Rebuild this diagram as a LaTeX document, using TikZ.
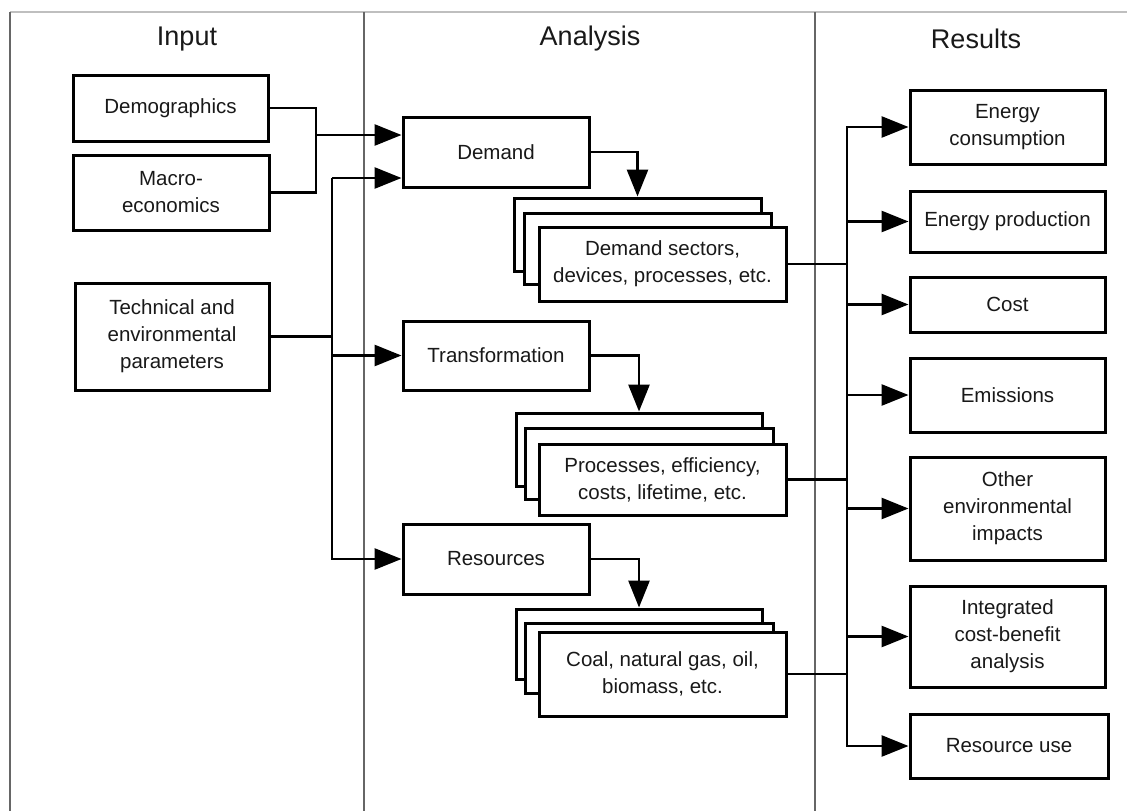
\documentclass[tikz,border=0pt]{standalone}
\usepackage{fontspec}
\setmainfont{Liberation Sans}
\usetikzlibrary{arrows.meta}
\begin{document}
\begin{tikzpicture}[x=1pt,y=-1pt,
  box/.style={draw=black, line width=3pt, fill=white, inner sep=0pt, align=center,
    font=\fontsize{20.5}{27}\selectfont, text=black!90},
  conn/.style={draw=black, line width=2.8pt},
  thinconn/.style={draw=black, line width=1.7pt},
  arr/.style={conn, -{Triangle[length=27pt,width=21pt]}},
  frame/.style={draw=black!60, line width=1.5pt},
  title/.style={font=\fontsize{27}{32}\selectfont, text=black!90}]
\useasboundingbox (0,0) rectangle (1127,811);
\fill[white] (0,0) rectangle (1127,811);
% frame
\draw[draw=black!25, line width=1.5pt] (10,12) -- (1127,12);
\draw[frame] (10,12) -- (10,811);
\draw[frame] (364,12) -- (364,811);
\draw[frame] (815,12) -- (815,811);
% titles
\node[title] (tin) at (187,39) {Input};
\node[title] (tan) at (590,39) {Analysis};
\node[title] (tre) at (976,39) {Results};
% input boxes
\node[box, minimum width=195pt, minimum height=66pt] (dem) at (170.5,108) {Demographics};
\node[box, minimum width=196pt, minimum height=75pt] (mac) at (171,192.5) {Macro-\\economics};
\node[box, minimum width=194pt, minimum height=107pt] (tech) at (172,336.5) {Technical and\\environmental\\parameters};
% analysis boxes
\node[box, minimum width=186pt, minimum height=70pt] (demand) at (496,152) {Demand};
\node[box, minimum width=186pt, minimum height=69pt] (trans) at (496,355.5) {Transformation};
\node[box, minimum width=186pt, minimum height=70pt] (res) at (496,559) {Resources};
% stack 1
\node[box, minimum width=247pt, minimum height=73pt] (back1) at (637.5,234.5) {};
\node[box, minimum width=247pt, minimum height=71pt] (mid1) at (647.5,248.5) {};
\node[box, minimum width=247pt, minimum height=74pt] (front1) at (662.5,264) {Demand sectors,\\devices, processes, etc.};
% stack 2
\node[box, minimum width=246pt, minimum height=73pt] (back2) at (639,449.5) {};
\node[box, minimum width=248pt, minimum height=71pt] (mid2) at (649,463.5) {};
\node[box, minimum width=247pt, minimum height=71pt] (front2) at (662.5,479.5) {Processes, efficiency,\\costs, lifetime, etc.};
% stack 3
\node[box, minimum width=246pt, minimum height=70pt] (back3) at (639,644) {};
\node[box, minimum width=248pt, minimum height=70pt] (mid3) at (649,658) {};
\node[box, minimum width=247pt, minimum height=84pt] (front3) at (662.5,674) {Coal, natural gas, oil,\\biomass, etc.};
% results boxes
\node[box, minimum width=195pt, minimum height=74pt] (ec) at (1007.5,127) {Energy\\consumption};
\node[box, minimum width=195pt, minimum height=61pt] (ep) at (1007.5,221.5) {Energy production};
\node[box, minimum width=195pt, minimum height=55pt] (cost) at (1007.5,304.5) {Cost};
\node[box, minimum width=195pt, minimum height=74pt] (emis) at (1007.5,395) {Emissions};
\node[box, minimum width=195pt, minimum height=103pt] (oth) at (1007.5,508.5) {Other\\environmental\\impacts};
\node[box, minimum width=195pt, minimum height=101pt] (integ) at (1007.5,636.5) {Integrated\\cost-benefit\\analysis};
\node[box, minimum width=198pt, minimum height=64pt] (ru) at (1009,746) {Resource use};
% coordinates
\coordinate (j1) at (316,135);
\coordinate (j2) at (332,178);
\coordinate (bus) at (847,400);
% input connectors
\draw[conn] (dem.east) -| (j1) |- (mac.east);
\draw[arr] (j1) -- (demand.west |- j1);
\draw[conn] (tech.east) -- (tech.east -| j2);
\draw[arr] (j2) -- (demand.west |- j2);
\draw[arr] (j2) |- (res.west);
\draw[arr] (j2 |- trans.west) -- (trans.west);
% analysis connectors
\draw[arr] (demand.east) -| (back1.north);
\draw[arr] (trans.east) -| (back2.north);
\draw[arr] (res.east) -| (back3.north);
% results bus
\draw[thinconn] (front1.east) -- (front1.east -| bus);
\draw[conn] (front2.east) -- (front2.east -| bus);
\draw[arr] (front1.east -| bus) |- (ec.west);
\draw[conn] (front1.east -| bus) -- (front3.east -| bus);
\draw[arr] (front3.east) -| (bus |- ru.west) -- (ru.west);
\draw[arr] (bus |- ep.west) -- (ep.west);
\draw[arr] (bus |- cost.west) -- (cost.west);
\draw[arr] (bus |- emis.west) -- (emis.west);
\draw[arr] (bus |- oth.west) -- (oth.west);
\draw[arr] (bus |- integ.west) -- (integ.west);
\end{tikzpicture}
\end{document}
